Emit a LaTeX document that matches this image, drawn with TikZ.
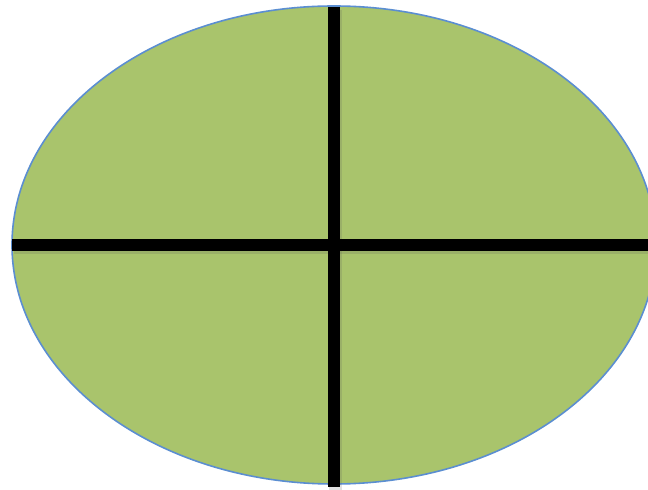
\documentclass[tikz,border=0pt]{standalone}
\usepackage{xcolor}
\usepackage{tikz}
\definecolor{ovgreen}{RGB}{169,196,108}
\definecolor{ovblue}{RGB}{91,142,209}
\definecolor{ovshadow}{RGB}{90,90,90}

\begin{document}
\begin{tikzpicture}[x=1pt, y=1pt, crossline/.style={line width=12pt, black}, crossshadow/.style={line width=13pt, ovshadow, opacity=0.18}]
        \useasboundingbox (0,0) rectangle (648,490);
        \clip (0,0) rectangle (648,490);
        \coordinate (ctr) at (334,245);
        \coordinate (top) at (334,483);
        \coordinate (bot) at (334,3);
        \coordinate (lft) at (12,245);
        \coordinate (rgt) at (660,245);
        \draw[ovblue, line width=1.6pt, fill=ovgreen] (ctr) ellipse [x radius=322, y radius=239];
        \draw[crossshadow] ([xshift=1.5pt,yshift=-3pt]top) -- ([xshift=1.5pt,yshift=-3pt]bot);
        \draw[crossshadow] ([xshift=1.5pt,yshift=-3pt]lft) -- ([xshift=1.5pt,yshift=-3pt]rgt);
        \draw[crossline] (top) -- (bot);
        \draw[crossline] (lft) -- (rgt);
      \end{tikzpicture}
\end{document}
